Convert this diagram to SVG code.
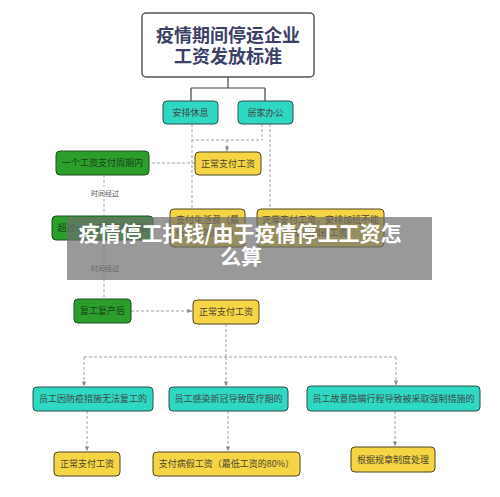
<svg xmlns="http://www.w3.org/2000/svg" width="500" height="497" viewBox="0 0 500 497">
<defs>
<style>
.t{font-family:"Noto Sans CJK SC","Noto Sans",sans-serif;text-anchor:middle}
.teal rect{fill:#2fd8c2;stroke:#2b4e4a;stroke-width:1}
.yel rect{fill:#f6d545;stroke:#4d4420;stroke-width:1}
.grn rect{fill:#2c9e2c;stroke:#1d4f1d;stroke-width:1}
.lbl{font-size:9px;fill:#3f4a48}
.glbl{font-size:9px;fill:#17421a}
.ylbl{font-size:9px;fill:#4b4330}
.dash{fill:none;stroke:#a3a3a3;stroke-width:1;stroke-dasharray:3 2}
.solid{fill:none;stroke:#444;stroke-width:1.2}
.small{font-size:7px;fill:#555}
</style>
<marker id="ah" viewBox="0 0 6 6" refX="5.5" refY="3" markerWidth="5" markerHeight="5" orient="auto">
<path d="M0,0.5 L6,3 L0,5.5 z" fill="#8a8a8a"/>
</marker>
</defs>
<rect width="500" height="497" fill="#ffffff"/>

<g id="connectors">
<path class="solid" d="M228,77 V88 M191,88 H265 M191,88 V101 M265,88 V101"/>
<path class="dash" d="M192,124 V140 H262 M262,124 V140"/>
<path class="dash" d="M227,140 V151" marker-end="url(#ah)"/>
<path class="dash" d="M192,140 V208"/>
<path class="dash" d="M270,124 V208"/>
<path class="dash" d="M195,163 H149"/>
<path class="dash" d="M104,175 V187 M104,199 V215"/>
<path class="dash" d="M104,240 V262 M104,274 V298"/>
<path class="dash" d="M131,311 H192" marker-end="url(#ah)"/>
<path class="dash" d="M226,324 V357 M84,357 H396"/>
<path class="dash" d="M84,357 V386" marker-end="url(#ah)"/>
<path class="dash" d="M226,357 V386" marker-end="url(#ah)"/>
<path class="dash" d="M396,357 V385" marker-end="url(#ah)"/>
<path class="dash" d="M87,411 V451" marker-end="url(#ah)"/>
<path class="dash" d="M228,411 V451" marker-end="url(#ah)"/>
<path class="dash" d="M395,411 V446" marker-end="url(#ah)"/>
<text class="t small" x="105" y="196">时间经过</text>
<text class="t small" x="105" y="271">时间经过</text>
</g>

<g id="title">
<rect x="142" y="13" width="172" height="64" rx="4" fill="#ffffff" stroke="#555" stroke-width="1.5"/>
<text class="t" x="228" y="42" font-size="18" fill="#3c3f68" font-weight="700">疫情期间停运企业</text>
<text class="t" x="228" y="63" font-size="18" fill="#3c3f68" font-weight="700">工资发放标准</text>
</g>

<g id="n_rest" class="teal"><rect x="163" y="101" width="55" height="23" rx="4"/><text class="t lbl" x="190.5" y="116">安排休息</text></g>
<g id="n_home" class="teal"><rect x="238" y="101" width="55" height="23" rx="4"/><text class="t lbl" x="265.5" y="116">居家办公</text></g>

<g id="n_pay1" class="yel"><rect x="195" y="152" width="66" height="23" rx="4"/><text class="t ylbl" x="228" y="167">正常支付工资</text></g>
<g id="n_period" class="grn"><rect x="56" y="151" width="93" height="24" rx="4"/><text class="t glbl" x="102.5" y="166">一个工资支付周期内</text></g>

<g id="n_over" class="grn"><rect x="52" y="216" width="101" height="24" rx="4"/><text class="t glbl" x="102.5" y="231">超过一个工资支付周期</text></g>
<g id="n_living" class="yel"><rect x="170" y="209" width="75" height="38" rx="4"/><text class="t ylbl" x="207.5" y="223">支付生活费（最</text><text class="t ylbl" x="207.5" y="236">低工资的80%）</text></g>
<g id="n_overtime" class="yel"><rect x="257" y="209" width="127" height="38" rx="4"/><text class="t ylbl" x="320.5" y="223">正常支付工资，安排加班不能</text><text class="t ylbl" x="320.5" y="236">支付加班工资</text></g>

<g id="banner">
<rect x="67" y="217" width="365" height="63" fill="#6e6e6e" fill-opacity="0.7"/>
<text class="t" x="240" y="241" font-size="21" font-weight="700" fill="#ffffff">疫情停工扣钱/由于疫情停工工资怎</text>
<text class="t" x="241" y="264" font-size="21" font-weight="700" fill="#ffffff">么算</text>
</g>

<g id="n_resume" class="grn"><rect x="74" y="299" width="57" height="24" rx="4"/><text class="t glbl" x="102.5" y="314">复工复产后</text></g>
<g id="n_pay2" class="yel"><rect x="193" y="300" width="66" height="24" rx="4"/><text class="t ylbl" x="226" y="315">正常支付工资</text></g>

<g id="n_c1" class="teal"><rect x="33" y="387" width="120" height="24" rx="4"/><text class="t lbl" x="93" y="402">员工因防疫措施无法复工的</text></g>
<g id="n_c2" class="teal"><rect x="169" y="387" width="119" height="24" rx="4"/><text class="t lbl" x="228.5" y="402">员工感染新冠导致医疗期的</text></g>
<g id="n_c3" class="teal"><rect x="307" y="386" width="173" height="25" rx="4"/><text class="t lbl" x="393.5" y="401.5">员工故意隐瞒行程导致被采取强制措施的</text></g>

<g id="n_r1" class="yel"><rect x="54" y="452" width="66" height="24" rx="4"/><text class="t ylbl" x="87" y="467">正常支付工资</text></g>
<g id="n_r2" class="yel"><rect x="153" y="452" width="147" height="24" rx="4"/><text class="t ylbl" x="226.5" y="467">支付病假工资（最低工资的80%）</text></g>
<g id="n_r3" class="yel"><rect x="351" y="447" width="84" height="25" rx="4"/><text class="t ylbl" x="393" y="462.5">根据规章制度处理</text></g>
</svg>
